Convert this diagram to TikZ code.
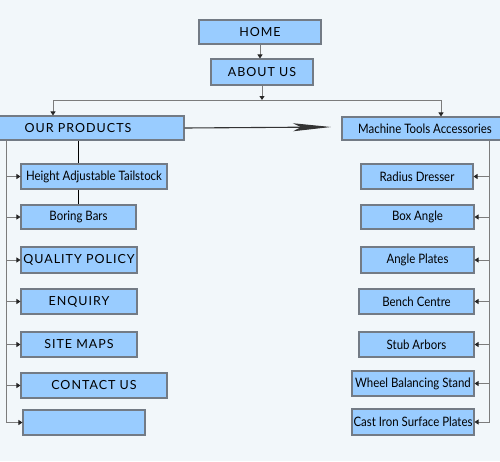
\documentclass[tikz,border=0pt]{standalone}
\usepackage{fontspec}
\setmainfont{Lato}
\newfontfamily\capsfont[LetterSpace=8]{Lato}
\newfontfamily\itemfont[FakeStretch=0.88]{Lato}
\usetikzlibrary{arrows.meta,positioning}
\definecolor{pagebg}{HTML}{F2F7FA}
\definecolor{boxfill}{HTML}{99CCFF}
\definecolor{boxline}{HTML}{737B85}
\definecolor{linkgray}{HTML}{7C7C7C}
\begin{document}
\begin{tikzpicture}[x=1pt,y=-1pt,
  menu/.style={draw=boxline,line width=1.1pt,fill=boxfill,inner sep=0pt,minimum height=25pt,text=black},
  capsbox/.style={menu,font=\capsfont\fontsize{12.5}{14}\selectfont},
  itembox/.style={menu,font=\itemfont\fontsize{13}{15}\selectfont},
  link/.style={draw=linkgray,line width=0.9pt},
  tip/.style={link,-{Triangle[length=4pt,width=5pt,color=black!85]}}]
\path[use as bounding box,fill=pagebg] (0,0) rectangle (500,461);
% top of the menu
\node[capsbox,minimum width=122pt,minimum height=24pt] (home) at (260,32) {HOME};
\node[capsbox,minimum width=102pt,minimum height=26pt] (about) at (262,72) {ABOUT US};
\node[capsbox,minimum width=212pt,minimum height=24pt] (prod) at (78,128) {OUR PRODUCTS};
\node[itembox,minimum width=166pt,minimum height=23pt] (mta) at (425,128.5) {Machine Tools Accessories};
\coordinate (busL) at (53,100); \coordinate (busR) at (441,100); \coordinate (prodtip) at (331,127);
\draw[tip] (home.south) -- (home.south |- about.north); \draw[tip] (about.south) -- (about.south |- busL);
\draw[link] (busL) -- (busR); \draw[tip] (busL) -- (busL |- prod.north); \draw[tip] (busR) -- (busR |- mta.north);
\draw[line width=1.1pt,black!80,-{Stealth[length=38pt,width=8pt,inset=8pt]}] (prod.east) -- (prodtip);
% left column
\node[itembox,minimum width=146pt] (tailstock) at (94,176.5) {Height Adjustable Tailstock};
\node[itembox,minimum width=115pt,minimum height=24pt] (boring) at (78.5,217) {Boring Bars};
\node[capsbox,minimum width=116pt,minimum height=26pt] (quality) at (79,260) {QUALITY POLICY};
\node[capsbox,minimum width=116pt] (enquiry) at (79,301.5) {ENQUIRY};
\node[capsbox,minimum width=116pt] (sitemap) at (79,344.5) {SITE MAPS};
\node[capsbox,minimum width=146pt] (contact) at (94,385.5) {CONTACT US};
\node[menu,minimum width=122pt] (blank) at (84,422.5) {};
\draw[link,black] (prod.south) -- (prod.south |- tailstock.north); \draw[link,black] (tailstock.south -| prod.south) -- (prod.south |- boring.north);
\coordinate (ltrunk) at (6,140);
\draw[tip] (ltrunk) |- (blank.west);
\draw[tip] (ltrunk |- tailstock.west) -- (tailstock.west); \draw[tip] (ltrunk |- boring.west) -- (boring.west);
\draw[tip] (ltrunk |- quality.west) -- (quality.west); \draw[tip] (ltrunk |- enquiry.west) -- (enquiry.west);
\draw[tip] (ltrunk |- sitemap.west) -- (sitemap.west); \draw[tip] (ltrunk |- contact.west) -- (contact.west);
% right column
\node[itembox,minimum width=112pt] (dresser) at (417,176.5) {Radius Dresser};
\node[itembox,minimum width=113pt,minimum height=24pt] (boxangle) at (417.5,217) {Box Angle};
\node[itembox,minimum width=113pt,minimum height=26pt] (plates) at (417.5,260) {Angle Plates};
\node[itembox,minimum width=115pt] (bench) at (416.5,301.5) {Bench Centre};
\node[itembox,minimum width=115pt] (arbors) at (416.5,344.5) {Stub Arbors};
\node[itembox,minimum width=122pt] (wheel) at (413,383.5) {Wheel Balancing Stand};
\node[itembox,minimum width=122pt,minimum height=26pt] (castiron) at (413,422) {Cast Iron Surface Plates};
\coordinate (rtrunk) at (489,141);
\draw[tip] (rtrunk) |- (castiron.east);
\draw[tip] (rtrunk |- dresser.east) -- (dresser.east); \draw[tip] (rtrunk |- boxangle.east) -- (boxangle.east);
\draw[tip] (rtrunk |- plates.east) -- (plates.east); \draw[tip] (rtrunk |- bench.east) -- (bench.east);
\draw[tip] (rtrunk |- arbors.east) -- (arbors.east); \draw[tip] (rtrunk |- wheel.east) -- (wheel.east);
\end{tikzpicture}
\end{document}
